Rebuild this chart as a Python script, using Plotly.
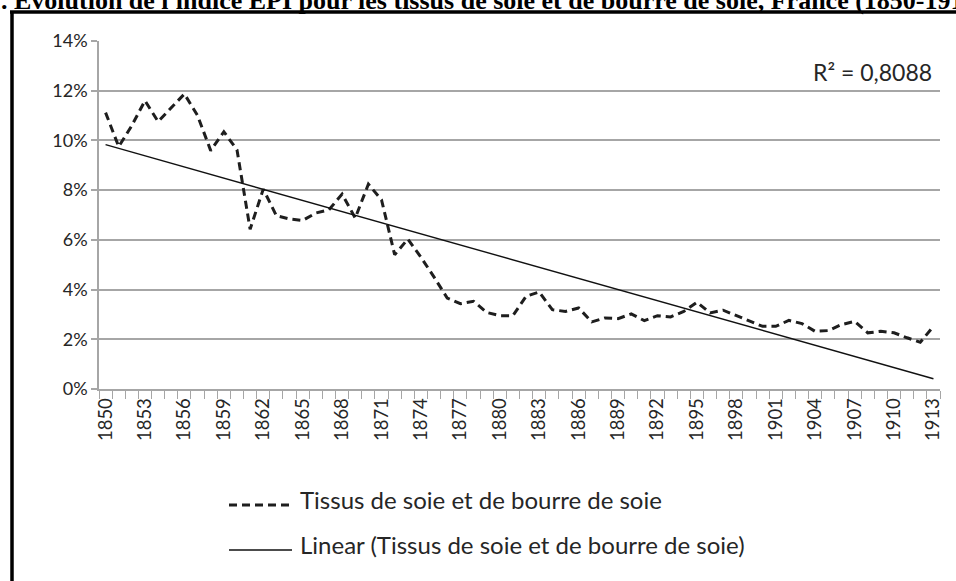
import numpy as np
import plotly.graph_objects as go

years = list(range(1850, 1914))
values = [11.12, 9.75, 10.6, 11.6, 10.76, 11.3, 11.87, 11.0, 9.59, 10.35,
          9.62, 6.43, 8.04, 6.97, 6.84, 6.78, 7.08, 7.21, 7.84, 6.88,
          8.24, 7.61, 5.40, 6.03, 5.3, 4.5, 3.66, 3.43, 3.53, 3.08,
          2.95, 2.95, 3.73, 3.90, 3.19, 3.12, 3.26, 2.70, 2.86, 2.83,
          3.02, 2.75, 2.95, 2.90, 3.12, 3.49, 3.06, 3.17, 2.95, 2.72,
          2.52, 2.52, 2.76, 2.63, 2.32, 2.35, 2.59, 2.72, 2.26, 2.32,
          2.26, 2.06, 1.88, 2.52]
tick_years = list(range(1850, 1914, 3))
y_ticks = [0, 2, 4, 6, 8, 10, 12, 14]
y_tick_labels = [f"{v}%" for v in y_ticks]
series_name = "Tissus de soie et de bourre de soie"
trend_name = "Linear (Tissus de soie et de bourre de soie)"
r2_text = "R² = 0,8088"
title_text = "1. Évolution de l'indice EPI pour les tissus de soie et de bourre de soie, France (1850-1913)"

# linear trend fitted on the series (as Excel does)
coef = np.polyfit(np.arange(len(values)), values, 1)
trend = list(np.polyval(coef, np.arange(len(values))))

W, H = 956, 581
L, R, T, B = 99, 940, 41, 389
def px(x):
    return (x - L) / (R - L)
def py(y):
    return (B - y) / (B - T)

fig = go.Figure()
fig.add_trace(go.Scatter(x=years, y=values, mode="lines", name=series_name,
                         line=dict(color="#1e1e1e", width=3, dash="8px,5px"),
                         showlegend=False))
fig.add_trace(go.Scatter(x=years, y=trend, mode="lines", name=trend_name,
                         line=dict(color="#111111", width=1.4),
                         showlegend=False))

grid = "#a6a6a6"
fig.update_layout(
    width=W, height=H,
    margin=dict(l=L, r=W - R, t=T, b=H - B),
    paper_bgcolor="white", plot_bgcolor="white",
    font=dict(family="Lato", color="#262626"),
    xaxis=dict(range=[1849.5, 1913.5], tickmode="array", tickvals=tick_years,
               ticktext=[str(y) for y in tick_years], tickangle=-90,
               ticks="", showgrid=False, showline=True, linecolor=grid, linewidth=1.5,
               tickfont=dict(size=18.5, family="Lato", color="#262626"),
               minor=dict(ticks="outside", tick0=1849.5, dtick=1, ticklen=8,
                          tickcolor=grid, tickwidth=1.2, showgrid=False),
               zeroline=False),
    yaxis=dict(range=[0, 14], tickmode="array", tickvals=y_ticks, ticktext=y_tick_labels,
               showgrid=True, gridcolor=grid, gridwidth=1.5,
               showline=True, linecolor=grid, linewidth=1.5,
               ticks="outside", ticklen=6, tickcolor=grid, tickwidth=1.5,
               tickfont=dict(size=18, family="Lato", color="#262626"),
               zeroline=False),
)

shapes = []
# chart frame (left and top border)
shapes.append(dict(type="line", xref="paper", yref="paper",
                   x0=px(12), x1=px(12), y0=py(12), y1=py(H + 5),
                   line=dict(color="black", width=3.5)))
shapes.append(dict(type="line", xref="paper", yref="paper",
                   x0=px(10), x1=px(W + 5), y0=py(12), y1=py(12),
                   line=dict(color="black", width=3.5)))
# legend samples
shapes.append(dict(type="line", xref="paper", yref="paper",
                   x0=px(229), x1=px(292), y0=py(505), y1=py(505),
                   line=dict(color="#1e1e1e", width=3, dash="8px,5px")))
shapes.append(dict(type="line", xref="paper", yref="paper",
                   x0=px(229), x1=px(292), y0=py(550), y1=py(550),
                   line=dict(color="#111111", width=1.4)))
fig.update_layout(shapes=shapes)

annotations = [
    dict(text=series_name, xref="paper", yref="paper", x=px(298), y=py(499),
         xanchor="left", yanchor="middle", showarrow=False,
         font=dict(size=24, family="Lato", color="#262626")),
    dict(text=trend_name, xref="paper", yref="paper", x=px(298), y=py(544),
         xanchor="left", yanchor="middle", showarrow=False,
         font=dict(size=24, family="Lato", color="#262626")),
    dict(text=r2_text, xref="paper", yref="paper", x=px(934), y=py(72),
         xanchor="right", yanchor="middle", showarrow=False,
         font=dict(size=23, family="Lato", color="#262626")),
    dict(text="<b>" + title_text + "</b>", xref="paper", yref="paper",
         x=px(-14), y=py(17), xanchor="left", yanchor="bottom", showarrow=False,
         font=dict(size=26, family="Liberation Serif", color="black")),
]
fig.update_layout(annotations=annotations)

fig.write_html("out.html", config={"displayModeBar": False},
               post_script="document.body.style.margin='0';document.body.style.overflow='hidden';")
